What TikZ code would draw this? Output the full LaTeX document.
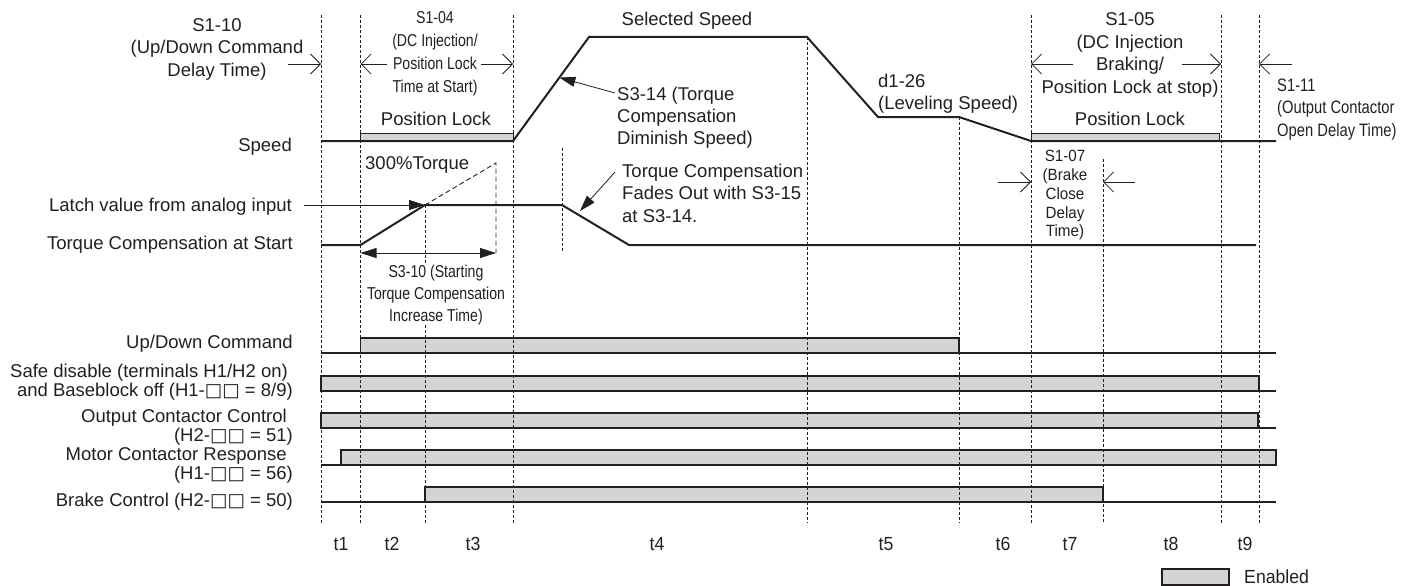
\documentclass[tikz,border=0pt]{standalone}
\usepackage{fontspec}
\setmainfont{Liberation Sans}
\newfontfamily\narrowfont[FakeStretch=0.82]{Liberation Sans}
\newfontfamily\semifont[FakeStretch=0.93]{Liberation Sans}
\newfontfamily\boxfont{DejaVu Sans}
\newcommand{\sqs}{{\boxfont □□}}
\usetikzlibrary{arrows.meta,calc}
\definecolor{barfill}{HTML}{D4D4D6}
\definecolor{ink}{HTML}{231F20}
\begin{document}
\begin{tikzpicture}[x=1pt,y=-1pt,
  txt/.style={inner sep=0pt, text=ink, font=\fontsize{18.5}{22.5}\selectfont},
  ntxt/.style={inner sep=0pt, text=ink, font=\narrowfont\fontsize{17.2}{22.8}\selectfont},
  stxt/.style={inner sep=0pt, text=ink, font=\semifont\fontsize{19}{22}\selectfont},
  waveline/.style={line width=2pt, draw=ink, line join=miter},
  guideline/.style={line width=0.9pt, draw=ink, dash pattern=on 3pt off 2pt},
  sigbar/.style={draw=ink, line width=1.3pt, fill=barfill},
  sigline/.style={draw=ink, line width=1.3pt},
  openarr/.style={line width=0.8pt, draw=ink, -{Straight Barb[length=10pt,width=20pt]}},
  fillarr/.style={line width=0.8pt, draw=ink, -{Triangle[length=16pt,width=10pt]}},
]
\useasboundingbox (0,0) rectangle (1408,586);

% ---------- position lock bars ----------
\draw[sigbar, line width=1pt] (360.5,133) rectangle (513,141);
\draw[sigbar, line width=1pt] (1031,133) rectangle (1219,141);

% ---------- digital signals ----------
\draw[sigline] (321,353) -- (1276,353);
\draw[sigbar] (360.5,338) rectangle (959,353);
\draw[sigbar] (321,376) rectangle (1259,391);
\draw[sigline] (1259,391) -- (1276,391);
\draw[sigbar] (321,413) rectangle (1258,428);
\draw[sigline] (1258,428) -- (1276,428);
\draw[sigline] (321,465) -- (341,465);
\draw[sigbar] (341,450) rectangle (1276,465);
\draw[sigline] (321,502) -- (1276,502);
\draw[sigbar] (425,487) rectangle (1103,502);

% ---------- guide lines ----------
\foreach \gx in {321,360.5,513,1031,1221,1259}
  \draw[guideline] (\gx,15) -- (\gx,523);
\draw[guideline] (425,205) -- (425,523);
\draw[guideline] (562,148) -- (562,253);
\draw[guideline] (807,37) -- (807,523);
\draw[guideline] (959,117) -- (959,523);
\draw[guideline] (1103,159) -- (1103,523);

% ---------- speed ----------
\coordinate (rampA) at (513,141);
\coordinate (rampB) at (589,37);
\draw[waveline] (321,141) -- (rampA) -- (rampB) -- (807,37) -- (878,117) -- (959,117) -- (1031,141) -- (1276,141);

% ---------- torque ----------
\draw[waveline] (321,245) -- (360.5,245) -- (425,205) -- (562,205) -- (629,245) -- (1256,245);
\draw[line width=0.9pt, draw=ink, dash pattern=on 5pt off 3pt] (425,205) -- (496,163) -- (496,253);

% ---------- texts: top-left ----------
\node[txt, align=center, anchor=north] (s110) at (217,18.2)
  {S1-10\\(Up/Down Command\\Delay Time)};
\coordinate (s110a) at (288,64);
\coordinate (s110b) at (321,64);
\draw[openarr] (s110a) -- (s110b);

\node[ntxt, align=center, anchor=north] (s104) at (435,11.6)
  {S1-04\\(DC Injection/\\Position Lock\\Time at Start)};
\coordinate (s104l) at (387,64);
\coordinate (s104r) at (481,64);
\draw[openarr] (s104l) -- (360.5,64);
\draw[openarr] (s104r) -- (513,64);

\node[txt, anchor=base] (pl1) at (436,125.6) {Position Lock};
\node[txt, anchor=base east] (speed) at (292,151.6) {Speed};
\node[txt, anchor=base west] (t300) at (365,169.6) {300\%Torque};
\node[txt, anchor=base east] (latch) at (292,211.6) {Latch value from analog input};
\node[txt, anchor=base east] (tcs) at (293,249.6) {Torque Compensation at Start};

\coordinate (latchstart) at (304,205);
\coordinate (latchpt) at (425,205);
\draw[fillarr] (latchstart) -- (latchpt);

\draw[line width=0.8pt, draw=ink, {Triangle[length=16pt,width=10pt]}-{Triangle[length=16pt,width=10pt]}] (360.5,253) -- (496,253);
\node[ntxt, align=center, anchor=north, fill=white, font=\narrowfont\fontsize{17.2}{22}\selectfont] (s310) at (436,265.2)
  {S3-10 (Starting\\Torque Compensation\\Increase Time)};

% ---------- texts: middle ----------
\node[txt, anchor=base] (sel) at (687,25.6) {Selected Speed};
\node[txt, align=left, anchor=north west, font=\fontsize{18.5}{22}\selectfont] (s314) at (617,86.4)
  {S3-14 (Torque\\Compensation\\Diminish Speed)};
\coordinate (s314a) at (615,93);
\draw[fillarr] (s314a) -- ($(rampA)!0.61!(rampB)$);

\node[txt, align=left, anchor=north west, font=\fontsize{18.5}{22.5}\selectfont] (fade) at (622,163.4)
  {Torque Compensation\\Fades Out with S3-15\\at S3-14.};
\coordinate (fadea) at (615,172);
\coordinate (fadeb) at (580,211);
\draw[fillarr] (fadea) -- (fadeb);

\node[txt, align=left, anchor=north west, font=\fontsize{18.5}{22}\selectfont] (d126) at (878,73.4)
  {d1-26\\(Leveling Speed)};

% ---------- texts: right ----------
\node[txt, align=center, anchor=north, font=\fontsize{18.5}{22.7}\selectfont] (s105) at (1130,12.4)
  {S1-05\\(DC Injection\\Braking/\\Position Lock at stop)};
\coordinate (s105l) at (1073,64);
\coordinate (s105r) at (1182,64);
\draw[openarr] (s105l) -- (1031,64);
\draw[openarr] (s105r) -- (1221,64);

\node[txt, anchor=base] (pl2) at (1130,125.6) {Position Lock};

\coordinate (s111a) at (1292,64);
\draw[openarr] (s111a) -- (1259,64);
\node[inner sep=0pt, text=ink, font=\narrowfont\fontsize{18}{22.5}\selectfont, align=left, anchor=north west] (s111) at (1277,78.6)
  {S1-11\\(Output Contactor\\Open Delay Time)};

\node[inner sep=0pt, text=ink, font=\semifont\fontsize{16.3}{18.75}\selectfont, align=center, anchor=north] (s107) at (1065,150.2)
  {S1-07\\(Brake\\Close\\Delay\\Time)};
\coordinate (s107l) at (998,182);
\coordinate (s107r) at (1135,182);
\draw[openarr] (s107l) -- (1031,182);
\draw[openarr] (s107r) -- (1103,182);

% ---------- signal labels ----------
\node[txt, anchor=base east] (updown) at (293,348.6) {Up/Down Command};
\node[txt, align=right, anchor=north east, font=\fontsize{18.5}{18.5}\selectfont] (safe) at (293,364.2)
  {Safe disable (terminals H1/H2 on)\hspace{5pt}\mbox{}\\and Baseblock off (H1-\sqs{} = 8/9)};
\node[txt, align=right, anchor=north east, font=\fontsize{18.5}{19}\selectfont] (occ) at (293,409.2)
  {Output Contactor Control\hspace{6pt}\mbox{}\\(H2-\sqs{} = 51)};
\node[txt, align=right, anchor=north east, font=\fontsize{18.5}{19}\selectfont] (mcr) at (293,447.2)
  {Motor Contactor Response\hspace{6pt}\mbox{}\\(H1-\sqs{} = 56)};
\node[txt, anchor=base east] (brk) at (293,506.6) {Brake Control (H2-\sqs{} = 50)};

% ---------- time labels ----------
\foreach \tx/\tn in {341/1,392/2,473/3,657/4,886/5,1003/6,1070/7,1171/8,1245/9}
  \node[stxt, anchor=base] (tl\tn) at (\tx,550) {t\tn};

% ---------- legend ----------
\draw[sigbar, line width=1.2pt] (1162,569) rectangle (1229,585);
\node[stxt, anchor=west] (enabled) at (1244,577) {Enabled};

\end{tikzpicture}
\end{document}
